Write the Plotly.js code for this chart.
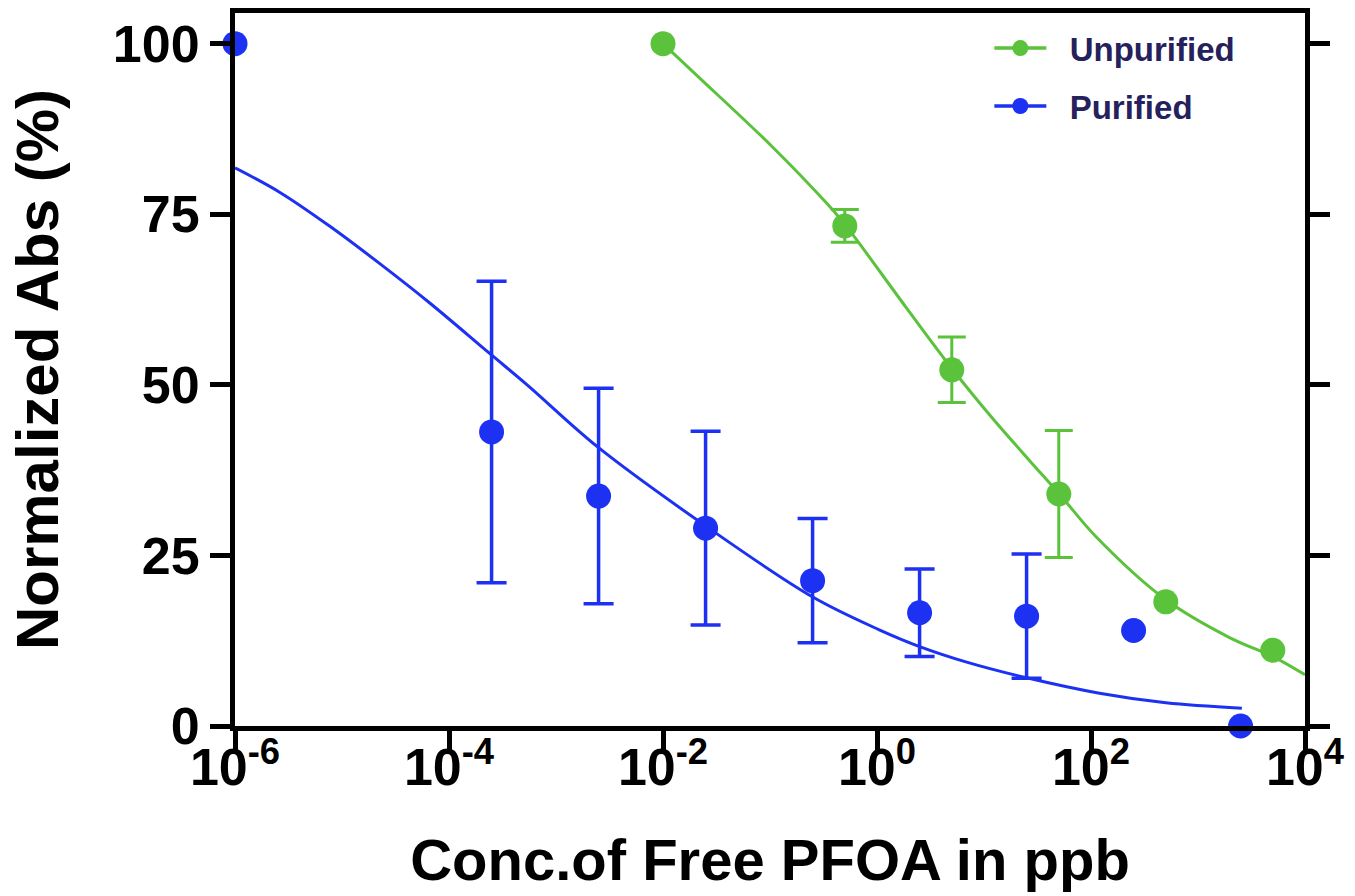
<!DOCTYPE html>
<html>
<head>
<meta charset="utf-8">
<script src="https://cdn.plot.ly/plotly-3.0.1.min.js"></script>
<style>
  html, body { margin: 0; padding: 0; background: #fff; }
  #chart { width: 1355px; height: 896px; }
</style>
</head>
<body>
<div id="chart"></div>
<script>
// ---- Data ----
// Purified (blue) measured points
var purifiedX = [1e-6, 2.5e-4, 2.5e-3, 2.5e-2, 0.25, 2.5, 25, 250, 2500];
var purifiedY = [100, 43.1, 33.7, 29.0, 21.3, 16.6, 16.1, 14.0, 0];
var purifiedErr = [null, 22.1, 15.8, 14.2, 9.1, 6.4, 9.1, null, null];

// Unpurified (green) measured points
var unpurifiedX = [0.01, 0.5, 5, 50, 500, 5000];
var unpurifiedY = [100, 73.3, 52.2, 34.0, 18.2, 11.1];
var unpurifiedErr = [null, 2.4, 4.8, 9.3, null, null];

// Fitted curves
var purifiedFitX = [1e-6, 2.63e-6, 7.76e-6, 2.24e-5, 6.61e-5, 2.40e-4, 5.37e-4, 2.45e-3, 0.0257, 0.251, 1.05, 2.54, 6.76, 24.5, 120, 501, 2570];
var purifiedFitY = [81.8, 78.2, 73.2, 67.8, 62.0, 54.6, 50.0, 40.9, 29.2, 18.9, 14.1, 11.6, 9.4, 7.1, 4.8, 3.4, 2.6];

var unpurifiedFitX = [0.01, 0.0219, 0.105, 0.339, 0.507, 1.86, 5.01, 12.0, 26.3, 51.3, 112, 501, 1950, 5130, 10000];
var unpurifiedFitY = [100, 95.0, 84.9, 76.6, 73.4, 61.4, 52.4, 45.1, 39.0, 33.9, 27.7, 18.5, 13.0, 10.1, 7.5];

// Axis ticks
var xTickVals = [1e-6, 1e-4, 1e-2, 1, 100, 1e4];
var xTickText = ['10<sup>-6</sup>', '10<sup>-4</sup>', '10<sup>-2</sup>', '10<sup>0</sup>', '10<sup>2</sup>', '10<sup>4</sup>'];
var yTickVals = [0, 25, 50, 75, 100];

var seriesNames = ['Unpurified', 'Purified'];

// ---- helpers: split points into those with / without error bars ----
function idxWhere(arr, withErr) {
  var out = [];
  for (var i = 0; i < arr.length; i++) {
    if ((arr[i] !== null) === withErr) out.push(i);
  }
  return out;
}
function pick(arr, idx) { return idx.map(function (i) { return arr[i]; }); }

// ---- Styling ----
var BLUE = '#1c31f2';
var GREEN = '#5bc23b';
var FONT = 'Liberation Sans, Arial, Helvetica, sans-serif';

function pointTraces(xs, ys, errs, color, thick, capw) {
  var withE = idxWhere(errs, true), noE = idxWhere(errs, false);
  return [
    {
      x: pick(xs, withE), y: pick(ys, withE), type: 'scatter', mode: 'markers',
      marker: { color: color, size: 25 },
      error_y: { type: 'data', array: pick(errs, withE), visible: true, color: color, thickness: thick, width: capw },
      cliponaxis: false, showlegend: false
    },
    {
      x: pick(xs, noE), y: pick(ys, noE), type: 'scatter', mode: 'markers',
      marker: { color: color, size: 25 },
      cliponaxis: false, showlegend: false
    }
  ];
}

var NB = '\u00a0\u00a0';

var traces = [
  { // blue fit
    x: purifiedFitX, y: purifiedFitY, type: 'scatter', mode: 'lines',
    line: { color: BLUE, width: 3, shape: 'spline', smoothing: 1 },
    showlegend: false, hoverinfo: 'skip'
  },
  { // green fit
    x: unpurifiedFitX, y: unpurifiedFitY, type: 'scatter', mode: 'lines',
    line: { color: GREEN, width: 3, shape: 'spline', smoothing: 1 },
    showlegend: false, hoverinfo: 'skip'
  }
].concat(
  pointTraces(purifiedX, purifiedY, purifiedErr, BLUE, 3.5, 15),
  pointTraces(unpurifiedX, unpurifiedY, unpurifiedErr, GREEN, 3, 14),
  [
    { // legend entries
      x: [null], y: [null], type: 'scatter', mode: 'lines+markers', name: NB + seriesNames[0],
      line: { color: GREEN, width: 3.5 }, marker: { color: GREEN, size: 25 }, legendgroup: 'a'
    },
    {
      x: [null], y: [null], type: 'scatter', mode: 'lines+markers', name: NB + seriesNames[1],
      line: { color: BLUE, width: 3.5 }, marker: { color: BLUE, size: 25 }, legendgroup: 'b'
    }
  ]
);

var layout = {
  width: 1355, height: 896,
  paper_bgcolor: '#ffffff', plot_bgcolor: '#ffffff',
  margin: { l: 235, r: 50, t: 13, b: 170 },
  font: { family: FONT, color: '#000' },
  showlegend: true,
  legend: {
    x: 0.705, y: 0.99, xanchor: 'left', yanchor: 'top',
    bgcolor: 'rgba(255,255,255,0)', borderwidth: 0,
    font: { family: FONT, size: 33, color: '#24215c', weight: 'bold' },
    itemwidth: 52, tracegroupgap: 12, traceorder: 'grouped'
  },
  xaxis: {
    type: 'log', range: [-6, 4],
    tickvals: xTickVals, ticktext: xTickText,
    ticks: 'outside', ticklen: 20, tickwidth: 5, tickcolor: '#000',
    showline: true, linewidth: 5, linecolor: '#000', mirror: true,
    showgrid: false, zeroline: false,
    tickfont: { family: FONT, size: 52, color: '#000', weight: 'bold' },
    ticklabelstandoff: -28,
    title: { text: 'Conc.of Free PFOA in ppb', font: { family: FONT, size: 58, color: '#000', weight: 'bold' }, standoff: 45 }
  },
  yaxis: {
    range: [0, 104.5],
    tickvals: yTickVals,
    ticks: 'outside', ticklen: 20, tickwidth: 5, tickcolor: '#000',
    showline: true, linewidth: 5, linecolor: '#000', mirror: 'ticks',
    showgrid: false, zeroline: false,
    tickfont: { family: FONT, size: 52, color: '#000', weight: 'bold' },
    title: { text: 'Normalized Abs (%)', font: { family: FONT, size: 60, color: '#000', weight: 'bold' }, standoff: 36 }
  }
};

Plotly.newPlot('chart', traces, layout, { staticPlot: true, displayModeBar: false });
</script>
</body>
</html>
